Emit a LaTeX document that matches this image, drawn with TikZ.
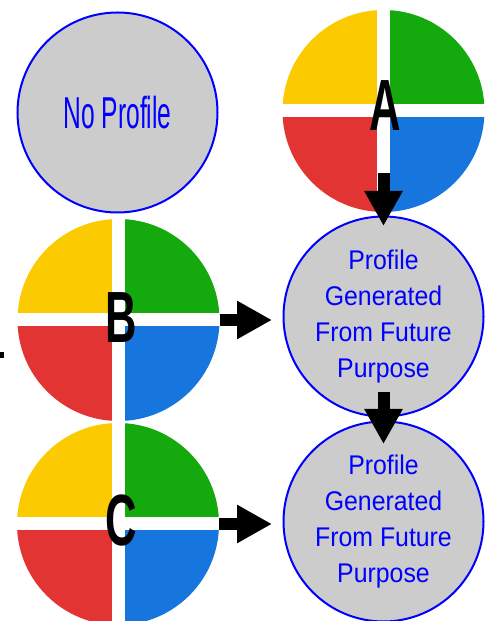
\documentclass[tikz,border=0pt]{standalone}
\usepackage{fontspec}
\setmainfont{Liberation Sans}
\newfontfamily\narrowfont[FakeStretch=0.55]{Liberation Sans}
\newfontfamily\profilefont[FakeStretch=0.92]{Liberation Sans}
\newfontfamily\letterfont[FakeStretch=0.6]{Liberation Sans}
\usetikzlibrary{arrows.meta,calc}

\definecolor{qyellow}{RGB}{252,202,0}
\definecolor{qgreen}{RGB}{20,170,14}
\definecolor{qred}{RGB}{226,52,50}
\definecolor{qblue}{RGB}{22,118,222}
\definecolor{disc}{RGB}{204,204,204}

\begin{document}
\begin{tikzpicture}[x=1pt, y=1pt,
    profile/.style={circle, draw=blue, line width=2pt, fill=disc,
      minimum size=200pt, inner sep=0pt, text=blue, align=center,
      font=\profilefont\fontsize{27}{36.3}\selectfont},
    quad/.style={circle, minimum size=202pt, inner sep=0pt},
    letter/.style={inner sep=0pt, font=\letterfont\bfseries\fontsize{72.6}{72}\selectfont},
    block arrow/.style={line width=12pt, -{Triangle[length=35pt, width=36pt]}}]
    \useasboundingbox (0,0) rectangle (485,621);

    \node[profile, font=\narrowfont\fontsize{44.7}{50}\selectfont] (none) at (117.5,508.5) {No Profile};
    \node[profile] (gen1) at (383.5,304.5) {Profile\\Generated\\From Future\\Purpose};
    \node[profile] (gen2) at (383.5,99.5) {Profile\\Generated\\From Future\\Purpose};

    % quartered discs
    \foreach \n/\x/\y in {A/383.5/510, B/118.5/301, C/118/97} {
      \node[quad] (\n) at (\x,\y) {};
      \begin{scope}
        \clip (\n.center) circle (101pt);
        \fill[qyellow] (\n.center) rectangle ++(-110,110);
        \fill[qgreen]  (\n.center) rectangle ++(110,110);
        \fill[qred]    (\n.center) rectangle ++(-110,-110);
        \fill[qblue]   (\n.center) rectangle ++(110,-110);
      \end{scope}
      \fill[white] ($(\n.west)+(-2,-6.5)$) rectangle ($(\n.east)+(2,6.5)$);
      \fill[white] ($(\n.south)+(-6.5,-2)$) rectangle ($(\n.north)+(6.5,2)$);
    }
    \foreach \n/\dx/\dy in {A/1.5/5, B/2.5/2, C/3.5/3}
      \node[letter] (\n lab) at ([shift={(\dx,\dy)}]\n.center) {\n};

    \draw[block arrow, shorten <=62pt, shorten >=90.5pt] (A.center) -- (gen1.center);
    \draw[block arrow, shorten <=75.5pt, shorten >=77.5pt] (gen1.center) -- (gen2.center);
    \draw[block arrow, shorten >=10.5pt] (B.east) -- (B.east -| gen1.west);
    \draw[block arrow, shorten >=10.5pt] (C.east) -- (C.east -| gen2.west);

    \fill (0,263) rectangle (4,269);
\end{tikzpicture}
\end{document}
